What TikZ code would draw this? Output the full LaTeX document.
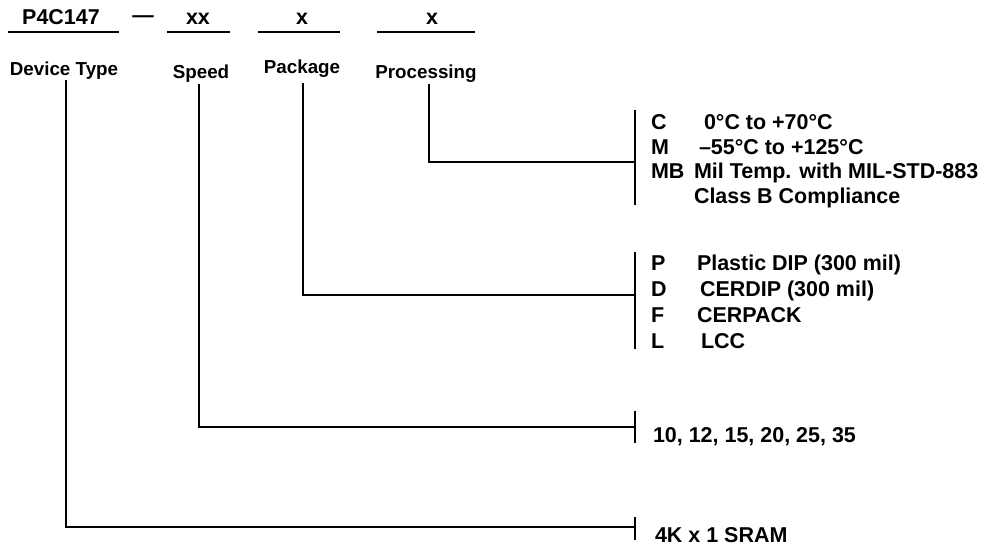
\documentclass[tikz,border=0pt]{standalone}
\usepackage{fontspec}
\setmainfont{Liberation Sans}
\usetikzlibrary{calc}

\begin{document}
\begin{tikzpicture}[x=0.75pt, y=-0.75pt, line width=1.5pt, line cap=butt]
    \useasboundingbox (0,0) rectangle (988,551);

    \tikzset{big/.style={font=\bfseries\fontsize{16.1}{19}\selectfont, inner sep=0pt},
             lbl/.style={font=\bfseries\fontsize{14.1}{18}\selectfont, inner sep=0pt, anchor=base},
             item/.style={big, anchor=base west}}

    \coordinate (devtop)  at (66,80);
    \coordinate (spdtop)  at (199,84);
    \coordinate (pkgtop)  at (303,83);
    \coordinate (proctop) at (429,84);

    \coordinate (devend)  at (635,527);
    \coordinate (spdend)  at (635,427);
    \coordinate (pkgend)  at (635,295);
    \coordinate (procend) at (635,162);

    \node[big, anchor=base]   (part)  at (61,24)  {P4C147};
    \node[big, anchor=base]   (dash)  at (143,22) {—};
    \node[big, anchor=base]   (spdx)  at (198,24) {xx};
    \node[big, anchor=base]   (pkgx)  at (302,24) {x};
    \node[big, anchor=base]   (procx) at (432,24) {x};

    \draw[line width=1.3pt] (8,32) -- (119,32);
    \draw[line width=1.3pt] (167,32) -- (230,32);
    \draw[line width=1.3pt] (258,32) -- (340,32);
    \draw[line width=1.3pt] (377,32) -- (475,32);

    \node[lbl] (dev)  at (64,75)  {Device Type};
    \node[lbl] (spd)  at (201,78) {Speed};
    \node[lbl] (pkg)  at (302,73) {Package};
    \node[lbl] (proc) at (426,78) {Processing};

    \node[item] (pC)   at (650,129) {C};
    \node[item] (pCv)  at (703,129) {0°C to +70°C};
    \node[item] (pM)   at (650,154) {M};
    \node[item] (pMv)  at (698,154) {–55°C to +125°C};
    \node[item] (pMB)  at (650,178) {MB};
    \node[item] (pMBv) at (693,178) {Mil Temp. with MIL-STD-883};
    \node[item] (pMBw) at (693,203) {Class B Compliance};

    \node[item] (kP)  at (650,270) {P};
    \node[item] (kPv) at (696,270) {Plastic DIP (300 mil)};
    \node[item] (kD)  at (650,296) {D};
    \node[item] (kDv) at (699,296) {CERDIP (300 mil)};
    \node[item] (kF)  at (650,322) {F};
    \node[item] (kFv) at (696,322) {CERPACK};
    \node[item] (kL)  at (650,348) {L};
    \node[item] (kLv) at (700,348) {LCC};

    \node[item] (spdv) at (652,442) {10, 12, 15, 20, 25, 35};
    \node[item] (devv) at (654,542) {4K x 1 SRAM};

    \draw (proctop) |- (procend);
    \draw (pkgtop)  |- (pkgend);
    \draw (spdtop)  |- (spdend);
    \draw (devtop)  |- (devend);

    \draw ($(procend)+(0,-52)$) -- ($(procend)+(0,43)$);
    \draw ($(pkgend)+(0,-43)$)  -- ($(pkgend)+(0,54)$);
    \draw ($(spdend)+(0,-16)$)  -- ($(spdend)+(0,16)$);
    \draw ($(devend)+(0,-10)$)  -- ($(devend)+(0,13)$);
\end{tikzpicture}
\end{document}
